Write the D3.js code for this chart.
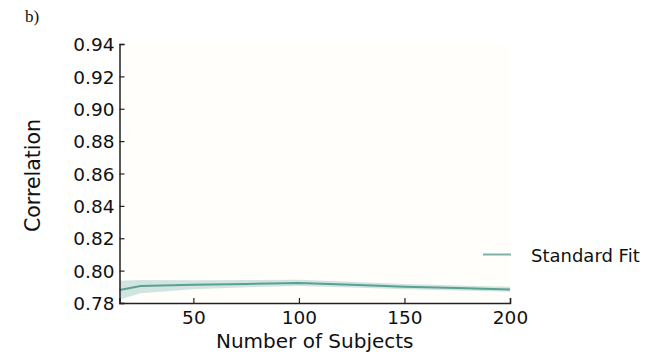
<!DOCTYPE html>
<html>
<head>
<meta charset="utf-8">
<script src="https://cdn.jsdelivr.net/npm/d3@7"></script>
<style>
  html, body { margin: 0; padding: 0; background: #ffffff; }
  svg { display: block; }
</style>
</head>
<body>
<svg id="chart" width="662" height="355"></svg>
<script>
// Sample sizes and the correlation achieved by the standard fit
const subjects = [15, 25, 50, 75, 100, 125, 150, 175, 200];
const meanCorr = [0.7880, 0.7905, 0.7912, 0.7918, 0.7923, 0.7912, 0.7901, 0.7892, 0.7884];
const lowerCorr = [0.7822, 0.7860, 0.7885, 0.7897, 0.7905, 0.7895, 0.7885, 0.7877, 0.7870];
const upperCorr = [0.7938, 0.7942, 0.7940, 0.7942, 0.7944, 0.7932, 0.7918, 0.7908, 0.7900];

const xTicks = [50, 100, 150, 200];
const yTicks = [0.78, 0.80, 0.82, 0.84, 0.86, 0.88, 0.90, 0.92, 0.94];
const seriesName = "Standard Fit";

const lineColor = "#5c9f93";
const bandColor = "#c9e1da";
const sans = "'DejaVu Sans', sans-serif";

const svg = d3.select("#chart");
const plotLeft = 119.5, plotRight = 510, plotTop = 44, plotBottom = 303;

const x = d3.scaleLinear().domain([15, 200]).range([plotLeft, plotRight]);
const y = d3.scaleLinear().domain([0.78, 0.94]).range([plotBottom, plotTop]);

// faint plot background
svg.append("rect")
  .attr("x", plotLeft).attr("y", plotTop)
  .attr("width", plotRight - plotLeft).attr("height", plotBottom - plotTop)
  .attr("fill", "#fffefb");

const rows = subjects.map((s, i) => ({ s, m: meanCorr[i], lo: lowerCorr[i], hi: upperCorr[i] }));

svg.append("path")
  .datum(rows)
  .attr("fill", bandColor)
  .attr("fill-opacity", 0.85)
  .attr("d", d3.area().x(d => x(d.s)).y0(d => y(d.lo)).y1(d => y(d.hi)));

svg.append("path")
  .datum(rows)
  .attr("fill", "none")
  .attr("stroke", lineColor)
  .attr("stroke-width", 2)
  .attr("d", d3.line().x(d => x(d.s)).y(d => y(d.m)));

// axes with inward ticks
const xAxis = svg.append("g")
  .attr("transform", `translate(0,${plotBottom})`)
  .call(d3.axisBottom(x).tickValues(xTicks).tickSize(-5).tickPadding(8).tickFormat(d3.format("d")));
const yAxis = svg.append("g")
  .attr("transform", `translate(${plotLeft},0)`)
  .call(d3.axisLeft(y).tickValues(yTicks).tickSize(-5).tickPadding(5).tickFormat(d3.format(".2f")));

[xAxis, yAxis].forEach(g => {
  g.select(".domain").attr("stroke", "#222").attr("stroke-width", 1.5);
  g.selectAll(".tick line").attr("stroke", "#222").attr("stroke-width", 1.2);
  g.selectAll(".tick text").attr("fill", "#111")
    .style("font-family", sans).style("font-size", "18.5px");
});
xAxis.selectAll(".tick text").attr("dy", "0.71em");
yAxis.selectAll(".tick text").attr("dy", "0.36em");

// axis titles
svg.append("text")
  .attr("x", (plotLeft + plotRight) / 2).attr("y", 348)
  .attr("text-anchor", "middle")
  .attr("fill", "#111")
  .style("font-family", sans).style("font-size", "20px")
  .text("Number of Subjects");

svg.append("text")
  .attr("transform", `translate(40,${(plotTop + plotBottom) / 2 + 2}) rotate(-90)`)
  .attr("text-anchor", "middle")
  .attr("fill", "#111")
  .style("font-family", sans).style("font-size", "20.5px")
  .text("Correlation");

// legend
svg.append("line")
  .attr("x1", 483).attr("x2", 511)
  .attr("y1", 254.5).attr("y2", 254.5)
  .attr("stroke", lineColor).attr("stroke-opacity", 0.8).attr("stroke-width", 2);
svg.append("text")
  .attr("x", 531).attr("y", 262)
  .attr("fill", "#111")
  .style("font-family", sans).style("font-size", "18px")
  .text(seriesName);

// panel label
svg.append("text")
  .attr("x", 25).attr("y", 22)
  .attr("fill", "#111")
  .style("font-family", "'Liberation Serif', 'Times New Roman', serif").style("font-size", "17px")
  .text("b)");
</script>
</body>
</html>
